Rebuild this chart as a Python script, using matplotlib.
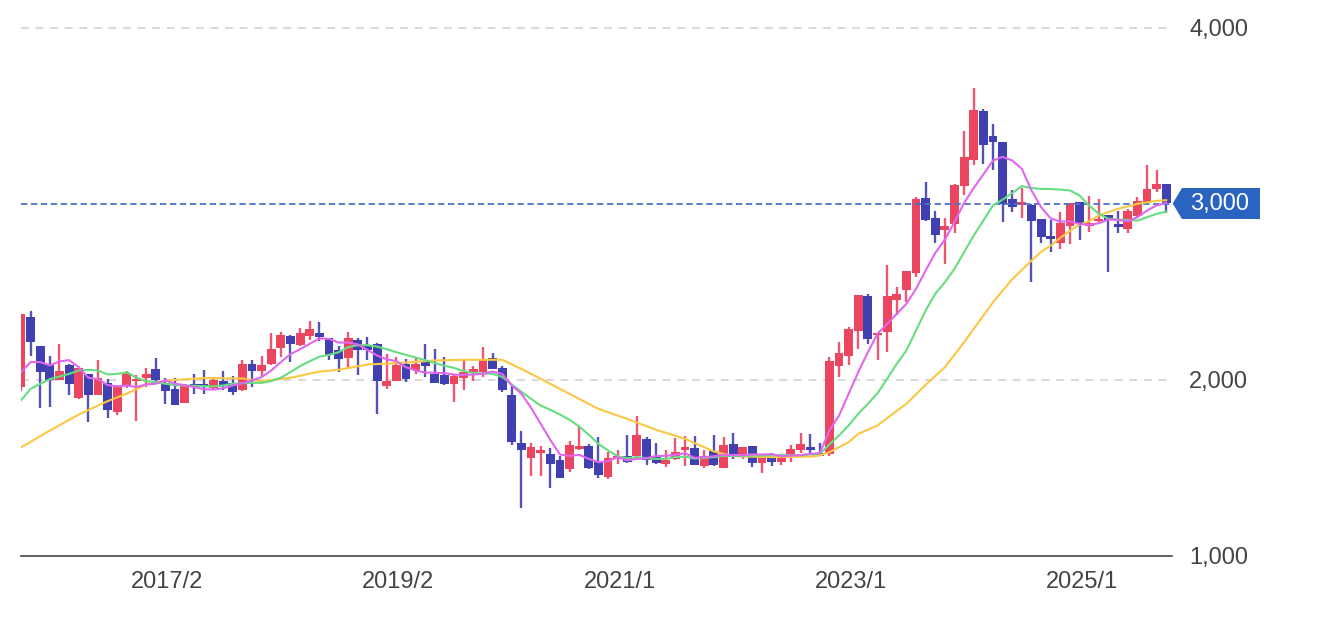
import matplotlib
matplotlib.use('Agg')
import matplotlib.pyplot as plt
from matplotlib.patches import Polygon

plt.rcParams['font.family'] = ['Liberation Sans', 'DejaVu Sans']

# monthly candles, 2015/11 to 2025/10
opens = [1957, 2356, 2190, 2082, 1995, 2080, 1896, 2032, 1911, 1979,
         1818, 1968, 1991, 2006, 2061, 1979, 1945, 1868, 1974, 1976,
         1953, 1991, 1979, 1942, 2086, 2048, 2086, 2180, 2245, 2198,
         2250, 2265, 2233, 2168, 2121, 2225, 2195, 2199, 1962, 1989,
         2089, 2055, 2098, 2032, 2028, 1972, 2008, 2040, 2040, 2123,
         2066, 1913, 1640, 1553, 1581, 1576, 1540, 1489, 1604, 1623,
         1530, 1445, 1555, 1564, 1564, 1661, 1562, 1521, 1549, 1602,
         1612, 1506, 1591, 1498, 1633, 1570, 1623, 1525, 1574, 1532,
         1562, 1600, 1619, 1581, 1574, 2076, 2136, 2278, 2475, 2254,
         2269, 2453, 2506, 2604, 3030, 2919, 2847, 2885, 3097, 3248,
         3525, 3381, 3349, 3025, 2993, 2993, 2913, 2813, 2777, 2875,
         3007, 2875, 2899, 2932, 2881, 2856, 2928, 3009, 3081, 3113]
closes = [2370, 2212, 2044, 1995, 2046, 1976, 2067, 1911, 2010, 1824,
          1957, 2036, 2004, 2032, 1995, 1932, 1856, 1961, 1957, 1964,
          1995, 1966, 1930, 2086, 2046, 2082, 2173, 2252, 2199, 2265,
          2288, 2240, 2142, 2117, 2235, 2168, 2168, 1990, 1994, 2083,
          2004, 2089, 2074, 1979, 1973, 2019, 2040, 2062, 2108, 2059,
          1941, 1644, 1600, 1619, 1600, 1519, 1439, 1627, 1621, 1496,
          1460, 1555, 1568, 1532, 1682, 1540, 1523, 1540, 1589, 1615,
          1515, 1568, 1515, 1627, 1578, 1617, 1525, 1578, 1530, 1562,
          1606, 1634, 1597, 1568, 2104, 2152, 2286, 2479, 2231, 2267,
          2472, 2487, 2616, 3027, 2907, 2820, 2873, 3104, 3265, 3530,
          3335, 3350, 2998, 2979, 3006, 2900, 2809, 2797, 2888, 3004,
          2888, 2888, 2913, 2907, 2865, 2960, 3013, 3085, 3110, 3004]
highs = [2370, 2392, 2190, 2135, 2203, 2089, 2067, 2032, 2112, 2004,
         1966, 2051, 2027, 2067, 2125, 2006, 2006, 1976, 2029, 2055,
         2017, 2048, 2021, 2112, 2108, 2135, 2265, 2271, 2252, 2294,
         2335, 2329, 2233, 2191, 2269, 2237, 2244, 2206, 2146, 2127,
         2117, 2123, 2199, 2174, 2127, 2028, 2108, 2074, 2187, 2153,
         2079, 1964, 1706, 1642, 1625, 1608, 1566, 1650, 1733, 1634,
         1672, 1587, 1600, 1687, 1794, 1676, 1640, 1597, 1669, 1680,
         1680, 1600, 1687, 1672, 1695, 1617, 1623, 1578, 1581, 1578,
         1627, 1697, 1691, 1638, 2127, 2214, 2301, 2479, 2487, 2267,
         2648, 2528, 2616, 3036, 3125, 2956, 2919, 3108, 3411, 3657,
         3538, 3453, 3349, 3074, 3087, 2998, 2913, 2904, 2950, 3004,
         3007, 3040, 3026, 2932, 2956, 2970, 3036, 3220, 3191, 3113]
lows = [1934, 2135, 1839, 1843, 1995, 1911, 1890, 1758, 1911, 1779,
        1801, 1949, 1767, 1957, 1985, 1858, 1856, 1868, 1915, 1915,
        1947, 1938, 1911, 1934, 1957, 2021, 2080, 2127, 2097, 2189,
        2225, 2218, 2108, 2040, 2066, 2028, 2112, 1805, 1947, 1989,
        1985, 2032, 2013, 1979, 1968, 1871, 1941, 1994, 2017, 2059,
        1928, 1627, 1271, 1454, 1453, 1384, 1439, 1473, 1597, 1491,
        1441, 1434, 1521, 1528, 1559, 1513, 1521, 1502, 1544, 1509,
        1515, 1496, 1509, 1498, 1551, 1551, 1502, 1468, 1511, 1515,
        1530, 1581, 1585, 1568, 1566, 2013, 2083, 2172, 2203, 2112,
        2155, 2364, 2438, 2585, 2898, 2777, 2657, 2835, 3051, 3216,
        3226, 3191, 2894, 2951, 2917, 2553, 2775, 2724, 2743, 2771,
        2793, 2837, 2894, 2610, 2833, 2831, 2922, 3009, 3066, 2945]

# moving averages, one reading per month
ma_fast = [2042, 2099, 2099, 2080, 2103, 2110, 2070, 2010, 2002, 1968,
           1961, 1966, 1957, 1972, 1976, 1995, 1976, 1968, 1957, 1945,
           1943, 1951, 1966, 1979, 1995, 2014, 2051, 2099, 2144, 2172,
           2203, 2233, 2231, 2210, 2210, 2199, 2168, 2136, 2115, 2104,
           2070, 2051, 2040, 2038, 2036, 2028, 2026, 2028, 2032, 2045,
           2032, 1966, 1919, 1839, 1748, 1657, 1574, 1566, 1572, 1549,
           1530, 1536, 1559, 1540, 1549, 1553, 1566, 1566, 1572, 1581,
           1555, 1559, 1564, 1572, 1570, 1570, 1574, 1574, 1576, 1564,
           1568, 1570, 1578, 1581, 1710, 1795, 1919, 2042, 2155, 2260,
           2316, 2373, 2430, 2515, 2619, 2719, 2795, 2895, 3003, 3088,
           3165, 3244, 3265, 3244, 3197, 3074, 2979, 2915, 2897, 2899,
           2884, 2879, 2888, 2909, 2907, 2899, 2922, 2960, 2989, 3004]
ma_mid = [1881, 1947, 1976, 2002, 2017, 2032, 2051, 2055, 2051, 2029,
          2032, 2040, 2010, 1991, 1985, 1976, 1968, 1966, 1964, 1962,
          1961, 1966, 1976, 1979, 1981, 1981, 1991, 2010, 2042, 2076,
          2104, 2129, 2140, 2155, 2184, 2195, 2195, 2187, 2172, 2155,
          2140, 2125, 2110, 2093, 2078, 2066, 2047, 2038, 2034, 2032,
          2015, 1972, 1930, 1890, 1852, 1828, 1801, 1771, 1733, 1686,
          1634, 1597, 1564, 1553, 1559, 1553, 1549, 1549, 1559, 1562,
          1551, 1555, 1559, 1566, 1566, 1566, 1568, 1568, 1570, 1570,
          1570, 1570, 1574, 1578, 1631, 1682, 1739, 1805, 1862, 1922,
          2004, 2089, 2165, 2278, 2392, 2487, 2553, 2629, 2724, 2818,
          2903, 2989, 3022, 3059, 3099, 3088, 3083, 3082, 3079, 3074,
          3045, 2988, 2941, 2913, 2909, 2907, 2903, 2922, 2941, 2954]
ma_slow_idx = [0, 3, 6, 8, 9, 11, 13, 15, 19, 23, 25, 28, 31, 33, 36, 39, 43,
               46, 50, 52, 54, 57, 60, 63, 66, 69, 72, 74, 78, 82, 83, 84, 86,
               87, 89, 92, 94, 96, 98, 101, 103, 105, 106, 107, 108, 109, 110,
               111, 112, 113, 114, 115, 116, 117, 118, 119]
ma_slow = [1614, 1710, 1801, 1852, 1877, 1920, 1971, 1994, 2008, 2006, 1991,
           2010, 2045, 2055, 2085, 2093, 2108, 2112, 2112, 2060, 2004, 1918,
           1833, 1776, 1714, 1663, 1591, 1564, 1559, 1562, 1568, 1587, 1644,
           1691, 1739, 1862, 1970, 2070, 2212, 2439, 2570, 2676, 2725, 2761,
           2805, 2846, 2881, 2899, 2932, 2951, 2970, 2983, 2998, 3007, 3015,
           3019]

tick_idx = [15.2, 39.2, 62.2, 86.2, 110.2]
tick_labels = ['2017/2', '2019/2', '2021/1', '2023/1', '2025/1']
y_ticks = [1000, 2000, 4000]
y_labels = ['1,000', '2,000', '4,000']
current_price = 3000

RED = '#ec4560'
BLUE = '#4040b0'
TEXT = '#444444'

fig = plt.figure(figsize=(13.44, 6.2), dpi=100)
ax = fig.add_axes([21 / 1344, 64.5 / 620, 1151 / 1344, 528 / 620])

idx = list(range(len(opens)))
colors = [RED if c >= o else BLUE for o, c in zip(opens, closes)]
bottoms = [min(o, c) for o, c in zip(opens, closes)]
heights = [abs(c - o) for o, c in zip(opens, closes)]

# gridlines
for y in [2000, 4000]:
    ax.axhline(y, color='#d8d8d8', lw=1.4, dashes=(4, 3.5), clip_on=False, zorder=1)

ax.vlines(idx, lows, highs, colors=colors, lw=1.7, alpha=0.9, zorder=2)
ax.bar(idx, heights, bottom=bottoms, width=0.92, color=colors, zorder=3)

ax.axhline(current_price, color='#4a74c4', lw=1.3, dashes=(3.5, 2), zorder=4)

ax.plot(ma_slow_idx, ma_slow, color='#fcc742', lw=1.5, zorder=5)
ax.plot(idx, ma_mid, color='#66dd80', lw=1.5, zorder=6)
ax.plot(idx, ma_fast, color='#e066f0', lw=1.5, zorder=7)

ax.set_xlim(0, 119.6)
ax.set_ylim(1000, 4000)
ax.set_xticks(tick_idx)
ax.set_xticklabels(tick_labels)
ax.set_yticks(y_ticks)
ax.set_yticklabels(y_labels)
ax.yaxis.tick_right()
ax.tick_params(axis='x', length=0, pad=11.5, labelsize=17, labelcolor=TEXT)
ax.tick_params(axis='y', length=0, pad=12.5, labelsize=17, labelcolor=TEXT)
for side in ['top', 'left', 'right']:
    ax.spines[side].set_visible(False)
ax.spines['bottom'].set_color('#444444')
ax.spines['bottom'].set_linewidth(1.2)
ax.patch.set_alpha(0)

# price tag at the right edge
tag = Polygon([(1172.7 / 1344, 1 - 203.5 / 620), (1182 / 1344, 1 - 188 / 620),
               (1260 / 1344, 1 - 188 / 620), (1260 / 1344, 1 - 219 / 620),
               (1182 / 1344, 1 - 219 / 620)],
              closed=True, transform=fig.transFigure, facecolor='#2b63c0',
              edgecolor='none', zorder=8)
fig.patches.append(tag)
fig.text(1220 / 1344, 1 - 204 / 620, f'{current_price:,}', color='white', fontsize=17,
         ha='center', va='center', zorder=9)

fig.savefig('out.png', dpi=100)
